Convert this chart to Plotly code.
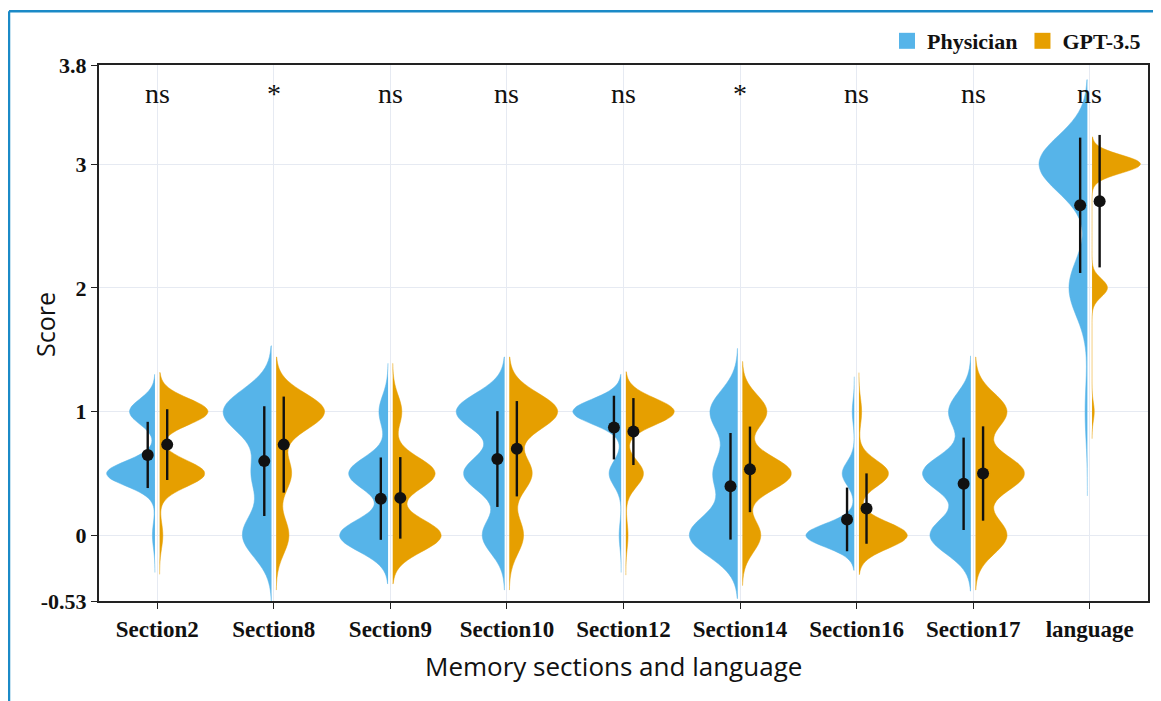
import numpy as np
import plotly.graph_objects as go

# ---------------- data ----------------
categories = ["Section2", "Section8", "Section9", "Section10", "Section12",
              "Section14", "Section16", "Section17", "language"]
section_levels = [0, 0.5, 1]      # possible scores for memory sections
language_levels = [1, 2, 3]       # possible scores for language

# number of answers at the low / mid / high score level of each category
physician_low = [1, 9, 16, 6, 1, 14, 24, 11, 1]
physician_mid = [19, 6, 13, 11, 6, 7, 6, 13, 8]
physician_high = [10, 15, 3, 13, 24, 8, 1, 6, 21]

gpt_low = [1, 5, 16, 5, 1, 6, 18, 9, 1]
gpt_mid = [14, 6, 14, 8, 8, 16, 11, 14, 7]
gpt_high = [15, 19, 3, 17, 22, 8, 1, 9, 22]

significance = ["ns", "*", "ns", "ns", "ns", "*", "ns", "ns", "ns"]

# kernel bandwidths (style of the density estimate)
physician_bw = [0.10, 0.177, 0.13, 0.147, 0.10, 0.17, 0.094, 0.15, 0.227]
gpt_bw = [0.105, 0.147, 0.13, 0.147, 0.107, 0.135, 0.105, 0.147, 0.073]

BLUE = "#56B4E9"
ORANGE = "#E69F00"
SERIF = "Liberation Serif"
SANS = "Open Sans"

# figure geometry (page has an 8px body margin)
W, H = 1153, 693
L, R, T, B = 91, 13, 55, 100
PW, PH = W - L - R, H - T - B


def px(xpix):
    return (xpix - 8 - L) / PW


def py(ypix):
    return (H - B - (ypix - 8)) / PH


fig = go.Figure()

groups = [
    ("Physician", BLUE, physician_low, physician_mid, physician_high, physician_bw, "negative", -0.02, -0.082),
    ("GPT-3.5", ORANGE, gpt_low, gpt_mid, gpt_high, gpt_bw, "positive", 0.02, 0.085),
]

for name, color, lows, mids, highs, bws, side, shift, dshift in groups:
    means, sds, xs = [], [], []
    for i, cat in enumerate(categories):
        levels = language_levels if cat == "language" else section_levels
        vals = np.repeat(levels, [lows[i], mids[i], highs[i]]).astype(float)
        bw = bws[i]
        fig.add_trace(go.Violin(
            x=[i + shift] * len(vals), y=vals, side=side, width=0.83,
            bandwidth=bw, spanmode="manual",
            span=[vals.min() - 3 * bw, vals.max() + 3 * bw],
            fillcolor=color, line=dict(color=color, width=0.5), opacity=1,
            points=False, box_visible=False, meanline_visible=False,
            scalemode="width", name=name, legendgroup=name,
            showlegend=False, hoverinfo="skip",
        ))
        means.append(vals.mean())
        sds.append(vals.std(ddof=1))
        xs.append(i + dshift)
    fig.add_trace(go.Scatter(
        x=xs, y=means, mode="markers",
        marker=dict(color="#111111", size=12),
        error_y=dict(type="data", array=sds, width=0, thickness=2.4, color="#111111"),
        showlegend=False, hoverinfo="skip",
    ))

# legend entries (square swatches)
for name, color in [("Physician", BLUE), ("GPT-3.5", ORANGE)]:
    fig.add_trace(go.Scatter(
        x=[None], y=[None], mode="markers", name=name, legendgroup=name,
        marker=dict(symbol="square", color=color, size=20), showlegend=True,
    ))

for i, sig in enumerate(significance):
    fig.add_annotation(x=i, y=3.57, xref="x", yref="y", text=sig, showarrow=False,
                       xanchor="center", yanchor="middle",
                       font=dict(family=SERIF, size=28, color="#111111"))

# axis titles as annotations
fig.add_annotation(x=px(45), y=py(324), xref="paper", yref="paper",
                   text="Score", textangle=-90, showarrow=False,
                   xanchor="center", yanchor="middle",
                   font=dict(family=SANS, size=25, color="#111111"))
fig.add_annotation(x=px(613), y=py(666), xref="paper", yref="paper",
                   text="Memory sections and language", showarrow=False,
                   xanchor="center", yanchor="middle",
                   font=dict(family=SANS, size=26, color="#111111"))

# blue outer frame (top and left edges)
fx = px(9)
fy = py(9)
fig.add_shape(type="line", xref="paper", yref="paper", x0=fx, y0=fy, x1=1.2, y1=fy,
              line=dict(color="#1B8AC7", width=2.5))
fig.add_shape(type="line", xref="paper", yref="paper", x0=fx, y0=fy, x1=fx, y1=-0.3,
              line=dict(color="#1B8AC7", width=2.5))

fig.update_layout(
    width=W, height=H,
    margin=dict(l=L, r=R, t=T, b=B),
    plot_bgcolor="white", paper_bgcolor="white",
    violinmode="overlay",
    legend=dict(orientation="h", x=px(1146), xanchor="right", y=py(60), yanchor="bottom",
                font=dict(family=SERIF, size=22, color="#111111", weight="bold"),
                bgcolor="rgba(0,0,0,0)", itemsizing="trace"),
    xaxis=dict(type="linear", range=[-0.5, 8.5], tickvals=list(range(len(categories))),
               ticktext=categories, showgrid=True, gridcolor="#E6EAF2", gridwidth=1,
               zeroline=False, showline=True, linecolor="#222222", linewidth=2,
               mirror=True, ticks="outside", ticklen=6, tickcolor="#222222",
               tickfont=dict(family=SERIF, size=23, color="#111111", weight="bold")),
    yaxis=dict(range=[-0.53, 3.8], tickvals=[-0.53, 0, 1, 2, 3, 3.8],
               ticktext=["-0.53", "0", "1", "2", "3", "3.8"],
               showgrid=True, gridcolor="#E6EAF2", gridwidth=1, zeroline=False,
               showline=True, linecolor="#222222", linewidth=2, mirror=True,
               ticks="outside", ticklen=6, tickcolor="#222222",
               tickfont=dict(family=SERIF, size=22, color="#111111", weight="bold")),
)

fig.write_html("out.html")
